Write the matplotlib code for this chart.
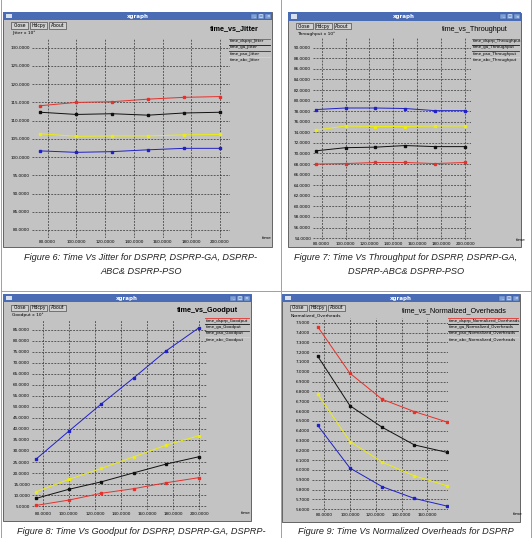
import numpy as np
import matplotlib
matplotlib.use("Agg")
import matplotlib.pyplot as plt
from matplotlib.patches import Rectangle
from matplotlib.lines import Line2D
from matplotlib.ticker import FormatStrFormatter, MultipleLocator

# ---- data ----
time = [75, 100, 125, 150, 175, 200]
time_oh = [75, 100, 125, 150, 175]

jitter_dsprp = [114.1, 115.0, 115.2, 115.9, 116.4, 116.6]
jitter_ga = [112.3, 111.7, 111.9, 111.5, 112.1, 112.3]
jitter_pso = [101.7, 101.3, 101.5, 102.0, 102.4, 102.4]
jitter_abc = [106.4, 105.7, 105.8, 105.8, 106.1, 106.2]

thr_dsprp = [68.0, 68.1, 68.3, 68.3, 68.1, 68.3]
thr_ga = [70.5, 71.1, 71.2, 71.5, 71.3, 71.3]
thr_pso = [78.3, 78.6, 78.6, 78.5, 78.1, 78.1]
thr_abc = [74.4, 75.2, 75.1, 75.1, 75.2, 75.2]

good_dsprp = [5.3, 7.7, 10.8, 12.9, 15.6, 17.9]
good_ga = [8.5, 12.6, 16.0, 20.1, 24.1, 27.4]
good_pso = [26.4, 39.0, 51.4, 63.3, 75.6, 86.0]
good_abc = [11.5, 17.1, 22.1, 27.4, 32.7, 37.0]

oh_dsprp = [7.46, 6.985, 6.72, 6.594, 6.49]
oh_ga = [7.16, 6.655, 6.435, 6.255, 6.18]
oh_pso = [6.455, 6.02, 5.83, 5.71, 5.633]
oh_abc = [6.774, 6.29, 6.08, 5.94, 5.84]

series_colors = ["#e8302a", "#101010", "#2020c8", "#ecec10"]
tags = ["dsprp", "ga", "pso", "abc"]

W, H = 532, 538
fig = plt.figure(figsize=(W / 100, H / 100), dpi=100)
fig.patch.set_facecolor("white")


def fx(x):
    return x / W


def fy(y):
    return 1 - y / H


def rect(x0, y0, x1, y1, **kw):
    fig.add_artist(Rectangle((fx(x0), fy(y1)), (x1 - x0) / W, (y1 - y0) / H,
                             transform=fig.transFigure, zorder=-2, **kw))


def hline(x0, x1, y, **kw):
    fig.add_artist(Line2D([fx(x0), fx(x1)], [fy(y), fy(y)], transform=fig.transFigure,
                          zorder=-1, **kw))


def vline(x, y0, y1, **kw):
    fig.add_artist(Line2D([fx(x), fx(x)], [fy(y0), fy(y1)], transform=fig.transFigure,
                          zorder=-3, **kw))


def text(x, y, s, **kw):
    fig.text(fx(x), fy(y), s, **kw)


def window(x0, y0, x1, y1, title, title_x, title_weight, unit, leg_x, leg_y, name, timex, timey):
    rect(x0, y0, x1, y1, fc="#c3c3c3", ec="#505050", lw=0.6)
    rect(x0, y0, x1, y0 + 8, fc="#4a6cb4", ec="none")
    rect(x0 + 3, y0 + 2, x0 + 9, y0 + 6, fc="#d8e0f0", ec="none")
    text((x0 + x1) / 2, y0 + 4.2, "xgraph", color="white", fontsize=4, ha="center",
         va="center", weight="bold")
    for i, sym in enumerate(["_", "□", "×"]):
        bx = x1 - 21 + i * 7
        rect(bx, y0 + 1.5, bx + 6, y0 + 6.5, fc="#7f9fd6", ec="#3a5a9a", lw=0.3)
        text(bx + 3, y0 + 4.2, sym, color="white", fontsize=3.2, ha="center", va="center")
    bx = x0 + 8
    for lab in ["Close", "Hdcpy", "About"]:
        w = 4 + 2.6 * len(lab)
        rect(bx, y0 + 10.5, bx + w, y0 + 16.5, fc="#d0d0d0", ec="#303030", lw=0.4)
        text(bx + w / 2, y0 + 13.6, lab, fontsize=3.3, ha="center", va="center")
        bx += w + 2
    text(title_x, y0 + 17, title, fontsize=5.2, ha="right", va="center",
         weight=title_weight, family="Liberation Sans")
    text(x0 + 9, y0 + 21, unit, fontsize=3.2, ha="left", va="center")
    for i, c in enumerate(series_colors):
        yy = leg_y + i * 6.3
        hline(leg_x, x1 - 2, yy, color=c, lw=0.6)
        text(leg_x + 1, yy + 2.6, "time_%s_%s" % (tags[i], name), fontsize=2.9,
             ha="left", va="center")
    text(timex, timey, "time", fontsize=3.2, ha="left", va="center")


def panel(l, t, r, b, xs, ys, xlim, ylim, ystep, xmax_tick):
    ax = fig.add_axes([fx(l), fy(b), (r - l) / W, (b - t) / H])
    ax.set_zorder(5)
    ax.set_facecolor("none")
    for c, y in zip(series_colors, ys):
        ax.plot(xs, y, color=c, lw=0.7, marker="s", ms=1.6, mec=c, mfc=c)
    ax.set_xlim(*xlim)
    ax.set_ylim(*ylim)
    ax.set_xticks(np.arange(80, xmax_tick + 1, 20))
    ax.yaxis.set_major_locator(MultipleLocator(ystep))
    ax.xaxis.set_major_formatter(FormatStrFormatter("%.4f"))
    ax.yaxis.set_major_formatter(FormatStrFormatter("%.4f"))
    ax.tick_params(length=0, labelsize=3, pad=1.2)
    for s in ax.spines.values():
        s.set_visible(False)
    ax.grid(True, ls=(0, (3, 2)), lw=0.45, color="#202020")
    return ax


# ---- page table lines ----
vline(1, 0, 538, color="#a0a0a0", lw=0.7)
vline(530.5, 0, 538, color="#a0a0a0", lw=0.7)
vline(281, 0, 538, color="#a0a0a0", lw=0.7)
hline(1, 531, 291, color="#a0a0a0", lw=0.7)

# ---- Figure 6: jitter ----
window(3, 12, 272, 247, "time_vs_Jitter", 259, "bold", "Jitter x 10³", 229, 38.5,
       "Jitter", 262, 238)
panel(31.7, 39, 230, 238, time, [jitter_dsprp, jitter_ga, jitter_pso, jitter_abc],
      (68.9, 207), (77.8, 132.4), 5, 200)

# ---- Figure 7: throughput ----
window(287.7, 12.5, 521, 247, "time_vs_Throughput", 508, "normal", "Throughput x 10³",
       472, 38.5, "Throughput", 516, 240)
panel(312.7, 38, 471, 240, time, [thr_dsprp, thr_ga, thr_pso, thr_abc],
      (72.5, 205), (53.65, 91.83), 2, 200)

# ---- Figure 8: goodput ----
window(3, 294, 250.7, 521, "time_vs_Goodput", 238, "bold", "Goodput x 10³", 205, 318,
       "Goodput", 241, 513)
panel(31.7, 320, 206.7, 510, time, [good_dsprp, good_ga, good_pso, good_abc],
      (71.5, 205.9), (3.2, 89.5), 5, 200)

# ---- Figure 9: normalized overheads ----
window(282, 294, 520, 521.7, "time_vs_Normalized_Overheads", 507, "normal",
       "Normalized_Overheads", 448, 318, "Normalized_Overheads", 513, 514)
panel(311.7, 318, 448, 511.7, time_oh, [oh_dsprp, oh_ga, oh_pso, oh_abc],
      (70.4, 176), (5.575, 7.548), 0.1, 160)

# ---- captions ----
cap = dict(fontsize=6.6, style="italic", family="Liberation Sans", ha="center",
           va="center", color="#222222")
text(141, 258, "Figure 6: Time Vs Jitter for DSPRP, DSPRP-GA, DSPRP-", **cap)
text(141, 271, "ABC& DSPRP-PSO", **cap)
text(406, 258, "Figure 7: Time Vs Throughput for DSPRP, DSPRP-GA,", **cap)
text(406, 271, "DSPRP-ABC& DSPRP-PSO", **cap)
text(141, 531.5, "Figure 8: Time Vs Goodput for DSPRP, DSPRP-GA, DSPRP-", **cap)
text(406, 531.5, "Figure 9: Time Vs Normalized Overheads for DSPRP", **cap)

fig.savefig("out.png", dpi=100)
